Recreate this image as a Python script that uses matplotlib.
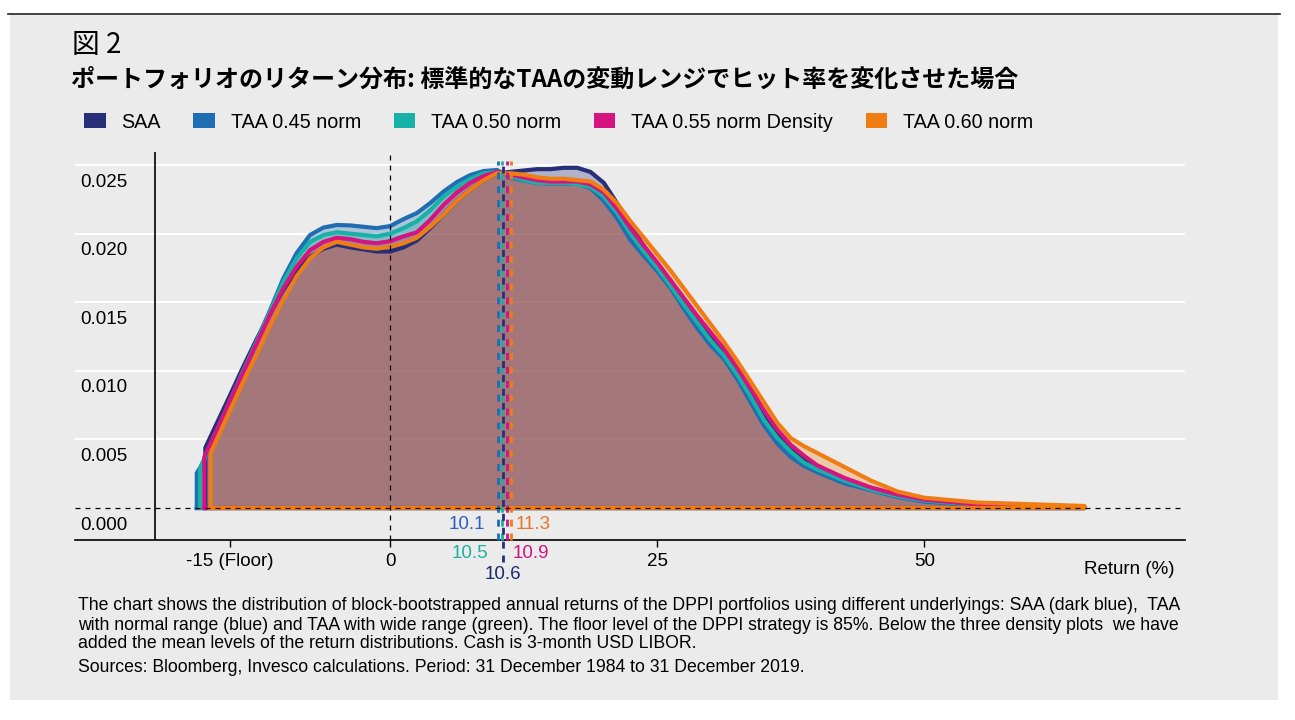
import matplotlib
matplotlib.use("Agg")
import matplotlib.pyplot as plt
import matplotlib.transforms as mtransforms
from matplotlib.patches import Rectangle, Patch
from matplotlib.lines import Line2D

plt.rcParams['font.family'] = ['Liberation Sans', 'Noto Sans CJK JP', 'DejaVu Sans']

# return grid (%) shared by all density curves
ret = [-15, -13.75, -12.5, -11.25, -10, -8.75, -7.5, -6.25, -5, -3.75, -2.5, -1.25,
       0, 1.25, 2.5, 3.75, 5, 6.25, 7.5, 8.75, 10, 11.25, 12.5, 13.75, 15, 16.25,
       17.5, 18.75, 20, 21.25, 22.5, 23.75, 25, 26.25, 27.5, 28.75, 30, 31.25, 32.5,
       33.75, 35, 36.25, 37.5, 38.75, 40, 42.5, 45, 47.5, 50, 55, 60, 65]

saa = [0.0082, 0.0103, 0.0123, 0.0142, 0.0159, 0.0173, 0.0183, 0.0189, 0.0192, 0.0190,
       0.01885, 0.0187, 0.0187, 0.0190, 0.0195, 0.0204, 0.0214, 0.0224, 0.0232, 0.0239,
       0.0244, 0.0245, 0.0246, 0.0247, 0.0247, 0.0248, 0.0248, 0.0245, 0.0237, 0.0222,
       0.0206, 0.0191, 0.0178, 0.0165, 0.0152, 0.0139, 0.0126, 0.0114, 0.0100, 0.0085,
       0.0069, 0.0055, 0.0043, 0.0035, 0.0029, 0.0020, 0.0014, 0.0009, 0.00055, 0.00022,
       0.0001, 0.00004]
taa45 = [0.00773, 0.00995, 0.01217, 0.0144, 0.01674, 0.01859, 0.0199, 0.02044, 0.02063, 0.0206,
         0.0205, 0.0204, 0.02055, 0.02106, 0.0215, 0.02223, 0.02307, 0.02376, 0.02427, 0.02456,
         0.02464, 0.0241, 0.02387, 0.02369, 0.02365, 0.02365, 0.02362, 0.02332, 0.0224, 0.0211,
         0.01953, 0.01837, 0.01727, 0.01603, 0.01452, 0.01312, 0.01186, 0.01086, 0.0094, 0.0077,
         0.0060, 0.0047, 0.00372, 0.00306, 0.0026, 0.0018, 0.0013, 0.0008, 0.00047, 0.00018,
         0.00008, 0.00003]
taa50 = [0.0078, 0.0100, 0.0121, 0.0143, 0.0165, 0.0182, 0.0194, 0.0199, 0.0201, 0.0200,
         0.0199, 0.0198, 0.0200, 0.0204, 0.0209, 0.0217, 0.0227, 0.0234, 0.0240, 0.0244,
         0.0245, 0.0242, 0.0239, 0.0237, 0.0237, 0.0237, 0.0236, 0.0234, 0.0227, 0.0215,
         0.0200, 0.0187, 0.0175, 0.0162, 0.0148, 0.0135, 0.0122, 0.0111, 0.0097, 0.0081,
         0.0064, 0.0051, 0.0041, 0.0033, 0.0028, 0.0020, 0.00135, 0.00087, 0.00055, 0.00022,
         0.0001, 0.00004]
taa55 = [0.0078, 0.0099, 0.0120, 0.0141, 0.0160, 0.0176, 0.0188, 0.0194, 0.0197, 0.0196,
         0.0194, 0.0193, 0.01945, 0.0198, 0.0201, 0.0210, 0.0221, 0.0230, 0.0237, 0.0242,
         0.0245, 0.0243, 0.0241, 0.0239, 0.0238, 0.0238, 0.0238, 0.0236, 0.0230, 0.0218,
         0.0204, 0.0191, 0.0179, 0.0166, 0.0153, 0.0140, 0.0128, 0.0116, 0.0102, 0.0087,
         0.0071, 0.0057, 0.0046, 0.0038, 0.0031, 0.0022, 0.0015, 0.00098, 0.00062, 0.00026,
         0.00012, 0.00005]
taa60 = [0.0071, 0.0092, 0.0112, 0.0133, 0.0152, 0.0169, 0.0182, 0.0190, 0.0194, 0.0192,
         0.0190, 0.0189, 0.01905, 0.0193, 0.0197, 0.0205, 0.0214, 0.0224, 0.0232, 0.0239,
         0.0244, 0.0244, 0.0243, 0.0241, 0.0240, 0.0240, 0.0239, 0.0238, 0.0232, 0.0222,
         0.0209, 0.0197, 0.0185, 0.0173, 0.0160, 0.0147, 0.0134, 0.0121, 0.0107, 0.0092,
         0.0077, 0.0062, 0.0051, 0.0045, 0.0040, 0.0030, 0.0020, 0.0012, 0.00075, 0.0004,
         0.00028, 0.00015]

# left edge (floor cut) of each density
edge_x = [[-17.3, -17.3], [-18.1, -18.1, -17.5], [-17.8, -17.8], [-17.4, -17.4], [-16.8, -16.8]]
edge_y = [[0, 0.0044], [0, 0.00255, 0.0033], [0, 0.0029], [0, 0.0037], [0, 0.0040]]

names = ['SAA', 'TAA 0.45 norm', 'TAA 0.50 norm', 'TAA 0.55 norm Density', 'TAA 0.60 norm']
colors = ['#262f78', '#1f6db2', '#17b1a7', '#d5147f', '#ef7d14']
label_colors = ['#1d2a6b', '#2f5fc0', '#20b0a0', '#d0157f', '#e8742a']
means = [10.6, 10.1, 10.5, 10.9, 11.3]

yticks = [0.0, 0.005, 0.010, 0.015, 0.020, 0.025]
xticks = [-15, 0, 25, 50]
xticklabels = ['-15 (Floor)', '0', '25', '50']

W, H = 1295, 720


def fx(px):
    return px / W


def fy(py):
    return 1 - py / H


fig = plt.figure(figsize=(12.95, 7.2), dpi=100)
fig.patches.append(Rectangle((fx(10), fy(700)), fx(1278) - fx(10), fy(15) - fy(700),
                             transform=fig.transFigure, facecolor='#ebebeb',
                             edgecolor='none', zorder=-5))
fig.add_artist(Line2D([fx(8), fx(1280)], [fy(14), fy(14)], color='#222222', lw=1.2))

ax = fig.add_axes([fx(75), fy(540), fx(1185) - fx(75), fy(152) - fy(540)])
ax.set_zorder(2)
ax.set_facecolor('#ebebeb')
ax.set_xlim(-29.5, 74.4)
ax.set_ylim(-0.00233, 0.02595)
for s in ['top', 'right', 'left']:
    ax.spines[s].set_visible(False)
ax.spines['bottom'].set_color('black')
ax.spines['bottom'].set_linewidth(1.2)

for v in yticks[1:]:
    ax.axhline(v, color='white', lw=1.4, zorder=1)
ax.axvline(-22, color='black', lw=1.2, zorder=1)

series = [saa, taa45, taa50, taa55, taa60]
outlines = []
for i, vals in enumerate(series):
    xs = edge_x[i] + ret + [ret[-1], edge_x[i][0]]
    ys = edge_y[i] + vals + [0, 0]
    ax.fill(xs, ys, color=colors[i], alpha=0.3, lw=0, zorder=2)
    outlines.append((xs, ys))
for i, (xs, ys) in enumerate(outlines):
    ax.plot(xs, ys, color=colors[i], lw=3, zorder=3, solid_joinstyle='round')

ax.axhline(0, color='black', lw=0.9, ls=(0, (4, 4)), zorder=6)
ax.axvline(0, color='black', lw=0.9, ls=(0, (4, 4)), zorder=6)

# mean markers
order = [1, 2, 0, 3, 4]
for i in order:
    low = -0.0039 if i == 0 else -0.00233
    ax.plot([means[i], means[i]], [low, 0.0253], color=colors[i], lw=2,
            ls=(0, (2.5, 2.5)), zorder=5, clip_on=False)

lab_kw = dict(fontsize=13.5, va='center', clip_on=False)
ax.text(means[1] - 1.2, -0.00117, f'{means[1]:.1f}', ha='right', color=label_colors[1], **lab_kw)
ax.text(means[4] + 0.4, -0.00117, f'{means[4]:.1f}', ha='left', color=label_colors[4], **lab_kw)
ax.text(means[2] - 1.3, -0.00328, f'{means[2]:.1f}', ha='right', color=label_colors[2], **lab_kw)
ax.text(means[3] + 0.6, -0.00328, f'{means[3]:.1f}', ha='left', color=label_colors[3], **lab_kw)
ax.text(means[0], -0.00488, f'{means[0]:.1f}', ha='center', color=label_colors[0], **lab_kw)

# y labels sit inside the plot, below their gridlines
ax.set_yticks([])
ytrans = mtransforms.offset_copy(
    mtransforms.blended_transform_factory(ax.transAxes, ax.transData),
    fig=fig, x=0, y=-17, units='dots')
for v in yticks:
    ax.text(0.0045, v, f'{v:.3f}', transform=ytrans, ha='left', va='center', fontsize=13.5)

ax.set_xticks(xticks, xticklabels)
ax.tick_params(axis='x', length=5, width=1, pad=4, labelsize=13.5, colors='black')
fig.text(fx(1174), fy(569), 'Return (%)', ha='right', va='center', fontsize=13.5)

# titles
fig.text(fx(72), fy(45), '図 2', ha='left', va='center', fontsize=20,
         family=['Noto Sans CJK JP', 'DejaVu Sans'])
fig.text(fx(71), fy(80), 'ポートフォリオのリターン分布: 標準的なTAAの変動レンジでヒット率を変化させた場合',
         ha='left', va='center', fontsize=17.3, fontweight='bold',
         family=['Noto Sans CJK JP', 'DejaVu Sans'])

handles = [Patch(facecolor=c, edgecolor='none', label=n) for c, n in zip(colors, names)]
fig.legend(handles=handles, loc='center left', bbox_to_anchor=(fx(84), fy(122)), ncol=5,
           frameon=False, fontsize=14.2, handlelength=1.1, handleheight=0.75,
           handletextpad=0.8, columnspacing=1.65, borderpad=0, borderaxespad=0)

notes = [
    'The chart shows the distribution of block-bootstrapped annual returns of the DPPI portfolios using different underlyings: SAA (dark blue),  TAA',
    'with normal range (blue) and TAA with wide range (green). The floor level of the DPPI strategy is 85%. Below the three density plots  we have',
    'added the mean levels of the return distributions. Cash is 3-month USD LIBOR.',
    'Sources: Bloomberg, Invesco calculations. Period: 31 December 1984 to 31 December 2019.',
]
for txt, py in zip(notes, [606, 625, 644, 667]):
    fig.text(fx(78), fy(py), txt, ha='left', va='center', fontsize=12.7)

fig.savefig('out.png', dpi=100, facecolor='white')
